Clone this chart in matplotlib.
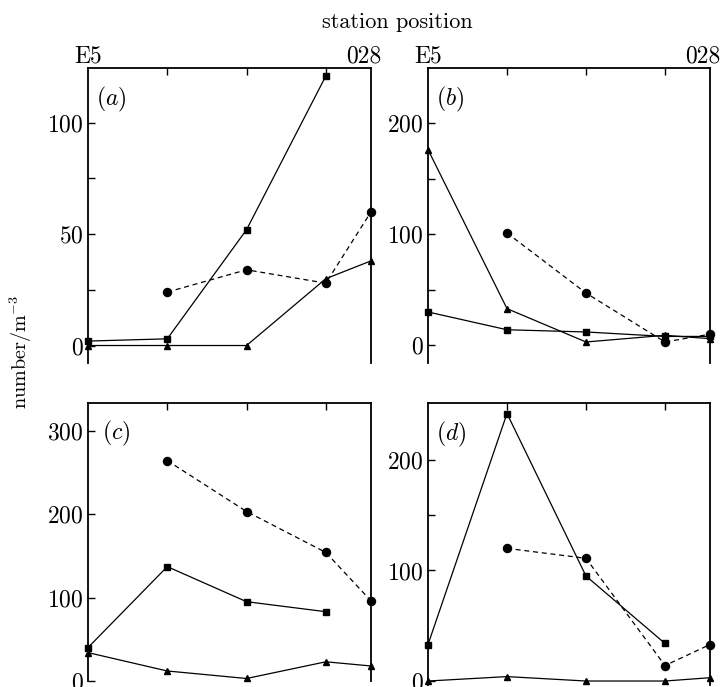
import numpy as np
import matplotlib
matplotlib.use("Agg")
import matplotlib.pyplot as plt

plt.rcParams['font.family'] = ['cmr10', 'DejaVu Serif']
plt.rcParams['mathtext.fontset'] = 'cm'
plt.rcParams['axes.formatter.use_mathtext'] = True

nan = np.nan
stations = [0, 1, 2, 3, 3.57]
ends = ["E5", "028"]

# panel (a)
a_sq = [2, 3, 52, 121, nan]
a_ci = [nan, 24, 34, 28, 60]
a_tr = [0, 0, 0, 30, 38]
# panel (b)
b_sq = [30, 14, 12, 8, 8]
b_ci = [nan, 101, 47, 3, 10]
b_tr = [176, 33, 3, 9, 6]
# panel (c)
c_sq = [40, 137, 95, 83, nan]
c_ci = [nan, 264, 203, 154, 96]
c_tr = [34, 12, 3, 23, 18]
# panel (d)
d_sq = [33, 242, 95, 34, nan]
d_ci = [nan, 120, 111, 14, 33]
d_tr = [0, 4, 0, 0, 3]

W, H = 723, 687
fig = plt.figure(figsize=(W / 100, H / 100), dpi=100)


def box(l, r, t, b):
    return [l / W, 1 - b / H, (r - l) / W, (b - t) / H]


panels = [
    ("a", box(88, 371, 68, 363), (-7.85, 124.6), [0, 50, 100], [25, 75], a_sq, a_ci, a_tr, True, (0.03, 0.895)),
    ("b", box(428, 710, 68, 363), (-15.9, 249.4), [0, 100, 200], [50, 150], b_sq, b_ci, b_tr, True, (0.03, 0.895)),
    ("c", box(88, 371, 403, 681), (0, 333), [0, 100, 200, 300], [], c_sq, c_ci, c_tr, False, (0.05, 0.892)),
    ("d", box(428, 710, 403, 685), (-3.6, 251.5), [0, 100, 200], [150], d_sq, d_ci, d_tr, False, (0.03, 0.89)),
]

for lab, pos, ylim, yt, ymin, sq, ci, tr, top, lpos in panels:
    ax = fig.add_axes(pos)
    ax.plot(stations, sq, '-', color='black', lw=0.9, marker='s', ms=4.5, clip_on=False)
    ax.plot(stations, ci, '--', color='black', lw=0.9, marker='o', ms=5.8,
            dashes=(4, 3), clip_on=False)
    ax.plot(stations, tr, '-', color='black', lw=0.9, marker='^', ms=4.5, clip_on=False)
    ax.set_xlim(0, 3.57)
    ax.set_ylim(*ylim)
    ax.spines['bottom'].set_visible(False)
    for s in ['left', 'right', 'top']:
        ax.spines[s].set_linewidth(1.3)
    ax.set_yticks(yt)
    ax.set_yticks(ymin, minor=True)
    ax.set_xticks([1, 2, 3])
    ax.tick_params(axis='x', bottom=False, top=True, labelbottom=False,
                   direction='in', length=5, width=1)
    ax.tick_params(axis='y', which='both', direction='in', length=5, width=1,
                   labelsize=17, pad=3)
    ax.text(lpos[0], lpos[1], r'$(%s)$' % lab, transform=ax.transAxes, fontsize=17,
            ha='left', va='center')
    if top:
        ax.text(0.0, 1.02, ends[0], transform=ax.transAxes, fontsize=17,
                ha='center', va='baseline')
        ax.text(0.975, 1.02, ends[1], transform=ax.transAxes, fontsize=17,
                ha='center', va='baseline')

fig.text(397 / W, 1 - 22 / H, "station position", fontsize=16, ha='center', va='center')
fig.text(21 / W, 1 - 352 / H, r"number/m$^{-3}$", fontsize=14.5, rotation=90,
         ha='center', va='center')

fig.savefig("out.png", dpi=100)
